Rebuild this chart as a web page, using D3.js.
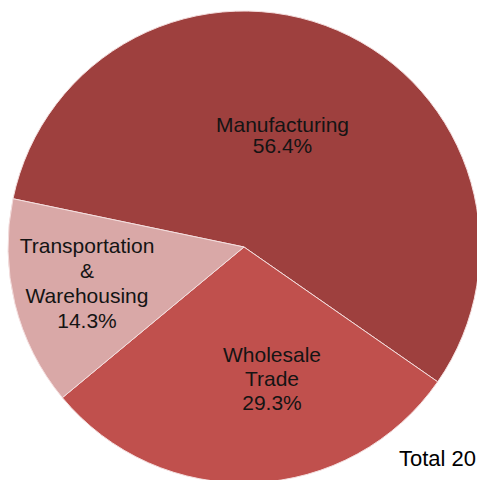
<!DOCTYPE html>
<html><head><meta charset="utf-8">
<script src="https://cdn.jsdelivr.net/npm/d3@7"></script>
<style>html,body{margin:0;padding:0;background:#fff;overflow:hidden}svg{display:block}</style>
</head><body>
<svg id="chart" width="477" height="480"></svg>
<script>
const categories = ["Manufacturing", "Wholesale Trade", "Transportation & Warehousing"];
const labelLines = [["Manufacturing"], ["Wholesale", "Trade"], ["Transportation", "&", "Warehousing"]];
const shares = [56.4, 29.3, 14.3];
const colors = ["#9e403e", "#c0504d", "#d9a8a7"];
const totalLabel = "Total 20";

const svg = d3.select("#chart");
const cx = 244, cy = 247, r = 236;
const g = svg.append("g").attr("transform", `translate(${cx},${cy})`);
const startA = -78.2 * Math.PI / 180;
const pie = d3.pie().sort(null).value(d => d).startAngle(startA).endAngle(startA + 2 * Math.PI);
const arcs = pie(shares);
const arc = d3.arc().innerRadius(0).outerRadius(r);
g.selectAll("path").data(arcs).join("path")
  .attr("d", arc).attr("fill", (d, i) => colors[i])
  .attr("stroke", "#f4dede").attr("stroke-width", 1);

const labelPos = [[38.5, -111.5], [28, 131.5], [-157, 36.5]];
const lineH = [21.5, 24, 25];
arcs.forEach((a, i) => {
  const lines = labelLines[i].concat([shares[i].toFixed(1) + "%"]);
  const t = g.append("text").attr("text-anchor", "middle")
    .attr("font-family", "Liberation Sans, Arial, sans-serif")
    .attr("font-size", 21).attr("fill", "#141414")
    .attr("transform", `translate(${labelPos[i][0]},${labelPos[i][1]})`);
  const n = lines.length;
  lines.forEach((s, j) => {
    t.append("tspan").attr("x", 0).attr("y", (j - (n - 1) / 2) * lineH[i] + 7).text(s);
  });
});

svg.append("text").attr("x", 399).attr("y", 466)
  .attr("font-family", "Liberation Sans, Arial, sans-serif")
  .attr("font-size", 22).attr("fill", "#000").text(totalLabel);
</script>
</body></html>
